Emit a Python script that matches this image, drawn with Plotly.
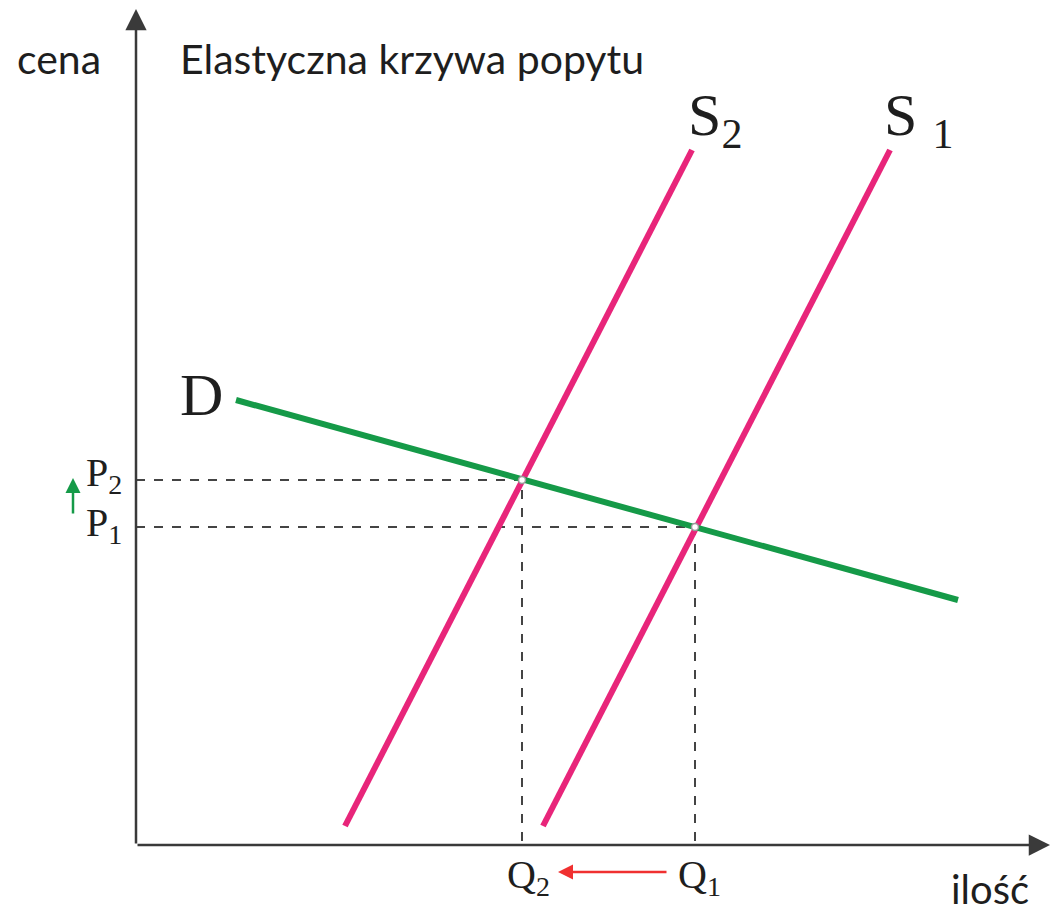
import plotly.graph_objects as go

# demand curve D (quantity, price)
d_q = [100, 822]
d_p = [445, 245]

# supply curves
s1_q = [407, 754]
s1_p = [19, 695]
s2_q = [209, 556]
s2_p = [19, 695]

# equilibria: index 0 -> (Q1, P1), index 1 -> (Q2, P2)
eq_q = [559, 386]
eq_p = [318, 365]

x_max = 914
y_max = 836

pink = "#E8257A"
green = "#159A48"
ink = "#1E1E1E"
serif = "Liberation Serif"
sans = "Lato"

fig = go.Figure()

# dashed guide lines
for q, p in zip(eq_q, eq_p):
    fig.add_trace(go.Scatter(x=[0, q, q], y=[p, p, 0], mode="lines",
                             line=dict(color="#444444", width=2, dash="dash"),
                             hoverinfo="skip"))

fig.add_trace(go.Scatter(x=s2_q, y=s2_p, mode="lines", line=dict(color=pink, width=6)))
fig.add_trace(go.Scatter(x=s1_q, y=s1_p, mode="lines", line=dict(color=pink, width=6)))
fig.add_trace(go.Scatter(x=d_q, y=d_p, mode="lines", line=dict(color=green, width=6)))

fig.add_trace(go.Scatter(x=eq_q, y=eq_p, mode="markers",
                         marker=dict(color="white", size=7,
                                     line=dict(color="#999999", width=1.5))))

# axes with arrowheads
arrow = dict(showarrow=True, xref="x", yref="y", axref="x", ayref="y", text="",
             arrowhead=2, arrowsize=1.7, arrowwidth=2.5, arrowcolor="#3A3A3A")
fig.add_annotation(x=x_max, y=0, ax=0, ay=0, **arrow)
fig.add_annotation(x=0, y=y_max, ax=0, ay=0, **arrow)

# shift arrows
small = dict(showarrow=True, xref="x", yref="y", axref="x", ayref="y", text="",
             arrowhead=2, arrowsize=1.2, arrowwidth=2.5)
fig.add_annotation(x=-63, y=367, ax=-63, ay=330, arrowcolor=green, **small)
fig.add_annotation(x=422, y=-27, ax=532, ay=-27, arrowcolor="#F03030", **small)

def label(x, y, text, size, family, xanchor="center"):
    fig.add_annotation(x=x, y=y, text=text, showarrow=False, xanchor=xanchor,
                       yanchor="middle", font=dict(size=size, family=family, color=ink))

label(-77, 787, "cena", 41, sans)
label(42, 787, "Elastyczna krzywa popytu", 41, sans, "left")
label(854, -44, "ilość", 40, sans)
label(65, 450, "D", 60, serif)
label(550, 726, "S<sub>2</sub>", 60, serif, "left")
label(746, 726, "S <sub>1</sub>", 60, serif, "left")
label(-52, 370, "P<sub>2</sub>", 40, serif, "left")
label(-52, 320, "P<sub>1</sub>", 40, serif, "left")
label(eq_q[1] + 6, -32, "Q<sub>2</sub>", 40, serif)
label(eq_q[0] + 4, -32, "Q<sub>1</sub>", 40, serif)

fig.update_layout(width=1043, height=908, margin=dict(l=0, r=0, t=0, b=0),
                  showlegend=False, plot_bgcolor="white", paper_bgcolor="white",
                  xaxis=dict(range=[-128, 915], visible=False, fixedrange=True),
                  yaxis=dict(range=[-71, 837], visible=False, fixedrange=True))

fig.write_html("out.html")
